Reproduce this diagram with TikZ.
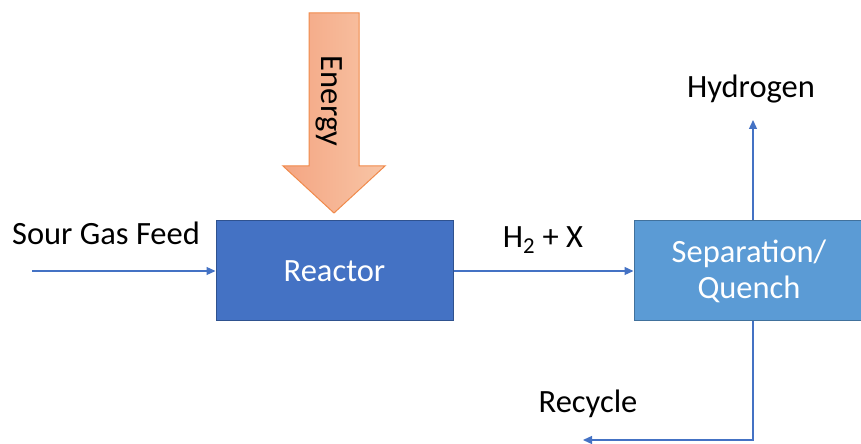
\documentclass[tikz,border=0pt]{standalone}
\usepackage{fontspec}
\setmainfont{Carlito}
\usetikzlibrary{arrows.meta}
\definecolor{flow}{HTML}{4472C4}
\definecolor{reacfill}{HTML}{4472C4}
\definecolor{reacdraw}{HTML}{2F528F}
\definecolor{sepfill}{HTML}{5B9BD5}
\definecolor{sepdraw}{HTML}{41719C}
\definecolor{enL}{HTML}{F4A582}
\definecolor{enR}{HTML}{F8C5A6}
\definecolor{enD}{HTML}{F08A4B}
\tikzset{
  lbl/.style={font=\fontsize{32.5bp}{36bp}\selectfont, text=black, inner sep=0pt},
  box/.style={font=\fontsize{32.5bp}{36bp}\selectfont, text=white, inner sep=0pt, line width=1bp, align=center},
  flowline/.style={draw=flow, line width=1.3bp, -{Triangle[length=9bp,width=8bp]}},
}
\begin{document}
\begin{tikzpicture}[x=1bp,y=-1bp]
\useasboundingbox (0,0) rectangle (861,444);
% energy arrow
\path[draw=enD, line width=1bp, left color=enL, right color=enR]
  (309,13) -- (359,13) -- (359,166) -- (385,166) -- (334,213) -- (283,166) -- (309,166) -- cycle;
\node[lbl, rotate=-90] (energy) at (329,101) {Energy};
% boxes
\node[box, fill=reacfill, draw=reacdraw, minimum width=237bp, minimum height=100bp] (reactor) at (334.5,271) {Reactor};
\node[box, fill=sepfill, draw=sepdraw, minimum width=230bp, minimum height=100bp] (sep) at (749,271) {Separation/\\Quench};
% labels
\node[lbl] (feedlbl) at (106,233) {Sour Gas Feed};
\node[lbl] (h2x) at (543,240) {H\textsubscript{2} + X};
\node[lbl] (hyd) at (751,89) {Hydrogen};
\node[lbl] (rec) at (588,404) {Recycle};
% connectors
\coordinate (feedstart) at (32,271);
\coordinate (hydend) at (753,120);
\coordinate (recend) at (583,440);
\draw[flowline] (feedstart) -- (reactor.west);
\draw[flowline] (reactor.east) -- (sep.west);
\draw[flowline] (sep.north -| hydend) -- (hydend);
\draw[flowline] (sep.south -| hydend) |- (recend);
\end{tikzpicture}
\end{document}
